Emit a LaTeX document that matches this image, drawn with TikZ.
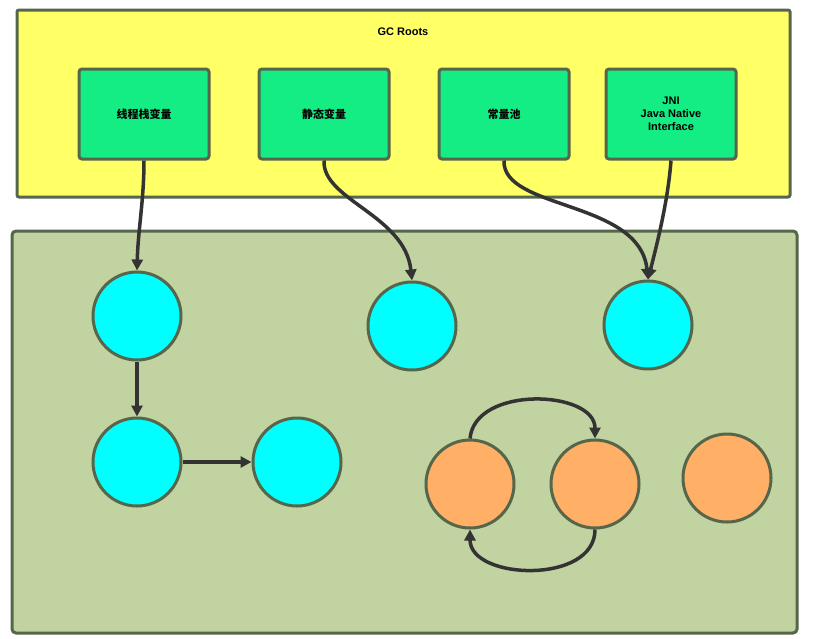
\documentclass[tikz,border=0pt]{standalone}
\usepackage{fontspec}
\setmainfont{Liberation Sans}
\newfontfamily\cjk{Noto Sans CJK SC}
\usetikzlibrary{arrows.meta}
\definecolor{bd}{HTML}{56664A}
\definecolor{ylw}{HTML}{FFFF66}
\definecolor{grn}{HTML}{C0D3A0}
\definecolor{box}{HTML}{14EC84}
\definecolor{cy}{HTML}{00FFFF}
\definecolor{org}{HTML}{FFB066}
\definecolor{ar}{HTML}{333333}
\begin{document}
\begin{tikzpicture}[x=1pt,y=-1pt,
 root/.style={draw=bd,line width=3pt,fill=box,rounded corners=3pt,minimum width=130pt,minimum height=90pt,font=\bfseries\fontsize{11}{13}\selectfont,align=center},
 cyc/.style={circle,draw=bd,line width=3pt,fill=cy,minimum size=88pt,inner sep=0pt},
 orc/.style={circle,draw=bd,line width=3pt,fill=org,minimum size=88pt,inner sep=0pt},
 arr/.style={draw=ar,line width=3.5pt,-{Triangle[length=11pt,width=11pt]}}]
\useasboundingbox (0,0) rectangle (813,638);
\draw[draw=bd,line width=3pt,fill=ylw,rounded corners=2pt] (17,10) rectangle (790,197);
\node[font=\bfseries\fontsize{11}{13}\selectfont] (t) at (403,32) {GC Roots};
\draw[draw=bd,line width=3pt,fill=grn,rounded corners=4pt] (12,231) rectangle (797,633);
\node[root] (b1) at (144,114) {\cjk 线程栈变量};
\node[root] (b2) at (324,114) {\cjk 静态变量};
\node[root] (b3) at (504,114) {\cjk 常量池};
\node[root] (b4) at (671,114) {JNI\\Java Native\\Interface};
\node[cyc] (c1) at (137,316) {};
\node[cyc] (c2) at (412,326) {};
\node[cyc] (c3) at (648,325) {};
\node[cyc] (c4) at (137,462) {};
\node[cyc] (c5) at (297,462) {};
\node[orc] (o1) at (470,484) {};
\node[orc] (o2) at (595,484) {};
\node[orc] (o3) at (727,478) {};
\draw[arr] (b1.south) .. controls (144,200) and (138,230) .. (c1.north);
\draw[arr] (b2.south) .. controls (322,200) and (405,215) .. (c2.north);
\draw[arr] (b3.south) .. controls (502,210) and (640,200) .. (c3.north);
\draw[arr] (b4.south) .. controls (668,200) and (658,240) .. (c3.north);
\draw[arr] (c1.south) -- (c4.north);
\draw[arr] (c4.east) -- (c5.west);
\draw[arr] (o1.north) .. controls (475,385) and (595,390) .. (o2.north);
\draw[arr] (o2.south) .. controls (595,585) and (470,580) .. (o1.south);
\end{tikzpicture}
\end{document}
